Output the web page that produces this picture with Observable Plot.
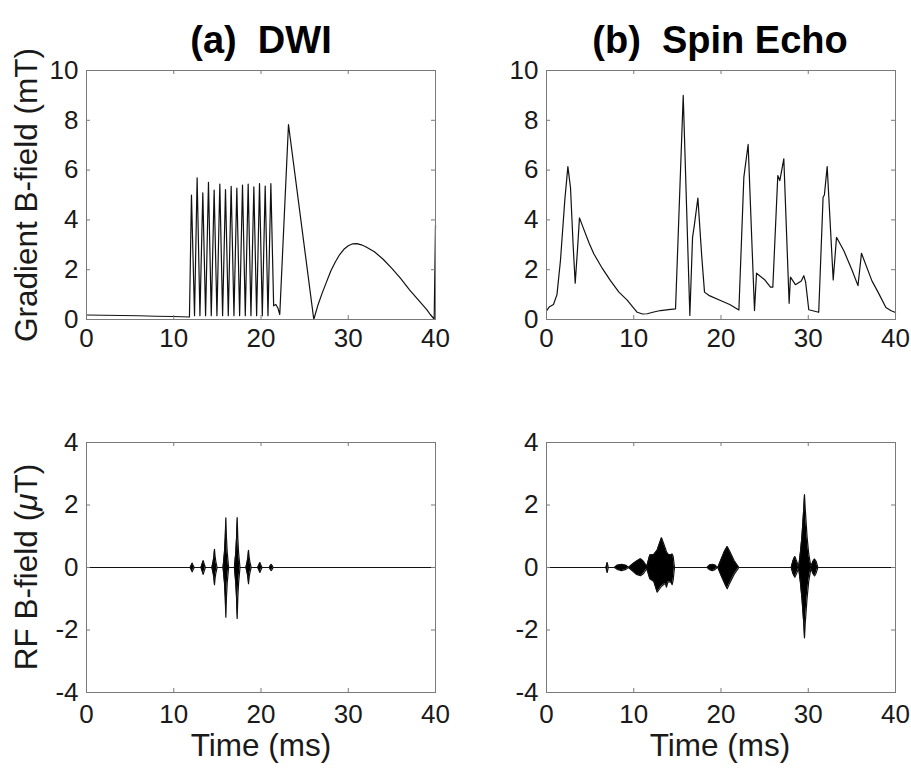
<!DOCTYPE html>
<html>
<head>
<meta charset="utf-8">
<script src="https://cdn.jsdelivr.net/npm/d3@7"></script>
<script src="https://cdn.jsdelivr.net/npm/@observablehq/plot@0.6"></script>
<style>
  body { margin: 0; background: #fff; }
  #fig { position: relative; width: 911px; height: 770px; background: #fff;
         font-family: "Liberation Sans", Arial, Helvetica, sans-serif; color: #1a1a1a; overflow: hidden; }
  #fig svg { position: absolute; overflow: visible; }
  .title { position: absolute; top: 40px; transform: translate(-50%, -50%); font-weight: bold;
           font-size: 38px; line-height: 1; white-space: pre; color: #000; }
  .xlab { position: absolute; transform: translate(-50%, -50%); font-size: 31.5px; line-height: 1; white-space: nowrap; }
  .ylab { position: absolute; transform: translate(-50%, -50%) rotate(-90deg); font-size: 31.5px; line-height: 1; white-space: nowrap; }
</style>
</head>
<body>
<div id="fig"></div>
<script>
// ---------------- data ----------------
const panelTitles = ["(a)  DWI", "(b)  Spin Echo"];
const xTicks = [0, 10, 20, 30, 40];
const gradTicks = [0, 2, 4, 6, 8, 10];
const rfTicks = [-4, -2, 0, 2, 4];

// (a) DWI gradient waveform: time (ms), field (mT)
const dwiGradT = [0, 2, 4, 6, 8, 10, 11.8, 12.03, 12.38, 12.68, 13.0, 13.33, 13.65, 13.98, 14.3, 14.63, 14.95,
  15.28, 15.6, 15.93, 16.25, 16.58, 16.9, 17.23, 17.55, 17.88, 18.2, 18.53, 18.85, 19.18, 19.5, 19.83, 20.15,
  20.48, 20.8, 21.13, 21.45, 21.7, 21.95, 22.15, 23.15, 26.05, 26.5, 27.0, 27.5, 28.0, 28.5, 29.0, 29.5, 30.0,
  30.5, 31.0, 31.5, 32.0, 33.0, 34.0, 35.0, 36.0, 37.0, 38.0, 39.0, 39.4, 39.85, 40];
const dwiGradB = [0.18, 0.17, 0.16, 0.15, 0.13, 0.12, 0.1, 5.0, 0.15, 5.69, 0.15, 5.09, 0.15, 5.51, 0.15, 5.2, 0.15,
  5.44, 0.15, 5.22, 0.15, 5.35, 0.15, 5.28, 0.15, 5.4, 0.15, 5.44, 0.15, 5.33, 0.15, 5.46, 0.15,
  5.36, 0.15, 5.46, 0.55, 0.6, 0.45, 0.2, 7.83, 0.0, 0.55, 1.05, 1.5, 1.95, 2.3, 2.6, 2.82, 2.96,
  3.04, 3.05, 3.0, 2.92, 2.72, 2.42, 2.05, 1.65, 1.2, 0.8, 0.4, 0.2, 0.02, 3.8];

// (b) Spin echo gradient waveform: time (ms), field (mT)
const seGradT = [0, 0.3, 0.8, 1.2, 1.6, 2.1, 2.45, 2.75, 3.05, 3.29, 3.55, 3.78, 4.3, 4.9, 5.42, 6.4, 7.33, 8.3, 9.25,
  9.9, 10.4, 11.0, 11.54, 12.3, 13.07, 14.0, 14.79, 15.67, 16.43, 16.74, 16.95, 17.35, 17.8, 18.11, 18.6, 19.94,
  21.0, 22.05, 22.62, 23.11, 23.84, 24.07, 25.0, 25.67, 25.94, 26.51, 26.74, 27.2, 27.81, 27.96, 28.53, 29.2,
  29.49, 29.7, 30.06, 31.2, 31.7, 31.85, 32.17, 32.86, 33.24, 34.08, 35.0, 35.7, 36.1, 37.3, 38.0, 38.9, 39.5, 40];
const seGradB = [0.35, 0.5, 0.6, 1.0, 2.37, 4.8, 6.14, 5.3, 3.0, 1.46, 2.8, 4.08, 3.6, 3.05, 2.64, 2.05, 1.56, 1.1, 0.78,
  0.5, 0.29, 0.22, 0.23, 0.3, 0.36, 0.4, 0.43, 9.0, 0.16, 3.3, 3.8, 4.88, 2.5, 1.1, 0.97, 0.76,
  0.6, 0.38, 5.72, 7.03, 0.36, 1.86, 1.6, 1.3, 1.3, 5.78, 5.58, 6.45, 0.65, 1.7, 1.4, 1.55,
  1.76, 1.5, 0.39, 0.29, 4.91, 5.0, 6.14, 1.59, 3.3, 2.76, 2.0, 1.36, 2.66, 1.55, 1.1, 0.48, 0.35, 0.28];

// (a) DWI RF envelope: time (ms), upper / lower envelope (uT)
const dwiRfT = [0, 11.88, 12.02, 12.11, 12.2, 12.34, 13.12, 13.27, 13.37, 13.47, 13.62,
  14.37, 14.52, 14.61, 14.67, 14.73, 14.82, 14.97, 15.65, 15.81, 15.9, 15.97, 16.04, 16.13, 16.29,
  16.95, 17.11, 17.2, 17.27, 17.34, 17.43, 17.59, 18.27, 18.42, 18.51, 18.57, 18.63, 18.72, 18.87,
  19.62, 19.77, 19.87, 19.97, 20.12, 20.95, 21.07, 21.17, 21.27, 21.39, 40];
const dwiRfHi = [0, 0, 0.08, 0.14, 0.08, 0, 0, 0.13, 0.22, 0.13, 0,
  0, 0.2, 0.38, 0.58, 0.38, 0.2, 0, 0, 0.48, 0.95, 1.59, 0.95, 0.48, 0,
  0, 0.48, 0.96, 1.6, 0.96, 0.48, 0, 0, 0.19, 0.36, 0.55, 0.36, 0.19, 0,
  0, 0.09, 0.16, 0.09, 0, 0, 0.06, 0.1, 0.06, 0, 0];
const dwiRfLo = [0, 0, -0.08, -0.14, -0.08, 0, 0, -0.13, -0.22, -0.13, 0,
  0, -0.19, -0.36, -0.55, -0.36, -0.19, 0, 0, -0.48, -0.95, -1.59, -0.95, -0.48, 0,
  0, -0.5, -0.98, -1.63, -0.98, -0.5, 0, 0, -0.18, -0.34, -0.52, -0.34, -0.18, 0,
  0, -0.09, -0.16, -0.09, 0, 0, -0.06, -0.1, -0.06, 0, 0];

// (b) Spin echo RF envelope: time (ms), upper / lower envelope (uT)
const seRfT = [0, 6.82, 6.95, 7.08, 7.8, 8.1, 8.6, 9.1, 9.4, 9.9, 10.3, 10.77, 11.1, 11.5,
  11.84, 12.3, 12.68, 13.18, 13.64, 13.75, 13.91, 14.21, 14.4, 14.52, 14.67,
  18.41, 18.7, 18.99, 19.3, 19.56, 19.64, 20.0, 20.4, 20.71, 21.0, 21.5, 22.05,
  28.05, 28.25, 28.46, 28.65, 28.9, 29.09, 29.28, 29.49, 29.57, 29.65, 29.86, 30.05, 30.3,
  30.55, 30.72, 30.9, 31.1, 40];
const seRfHi = [0, 0, 0.16, 0, 0, 0.07, 0.1, 0.07, 0, 0.12, 0.2, 0.28, 0.2, 0.04,
  0.4, 0.42, 0.55, 0.95, 0.6, 0.5, 0.43, 0.4, 0.43, 0.35, 0,
  0, 0.08, 0.1, 0.08, 0, 0, 0.25, 0.52, 0.67, 0.52, 0.22, 0,
  0, 0.22, 0.35, 0.22, 0.02, 0.45, 1.0, 1.9, 2.33, 1.9, 1.0, 0.45, 0.03,
  0.2, 0.27, 0.2, 0, 0];
const seRfLo = [0, 0, -0.16, 0, 0, -0.06, -0.1, -0.06, 0, -0.12, -0.22, -0.26, -0.2, -0.04,
  -0.36, -0.45, -0.79, -0.6, -0.5, -0.63, -0.47, -0.45, -0.55, -0.4, 0,
  0, -0.07, -0.1, -0.07, 0, 0, -0.25, -0.5, -0.68, -0.5, -0.22, 0,
  0, -0.2, -0.31, -0.2, -0.02, -0.45, -1.0, -1.8, -2.25, -1.8, -1.0, -0.45, -0.03,
  -0.2, -0.27, -0.18, 0, 0];

// ---------------- drawing ----------------
const fig = document.getElementById("fig");
const FONT = '"Liberation Sans", Arial, Helvetica, sans-serif';
const AXIS = "#7a7a7a";
const PW = 349;

function zip(t, a, b) {
  return t.map((d, i) => ({t: d, a: a[i], b: b ? b[i] : undefined}));
}

function panel({left, top, mLeft, mRight, mTop, mBottom, H, yDomain, yTicks, marks, padX}) {
  const svg = Plot.plot({
    width: mLeft + PW + mRight,
    height: mTop + H + mBottom,
    marginLeft: mLeft, marginRight: mRight, marginTop: mTop, marginBottom: mBottom,
    x: {domain: [0, 40]},
    y: {domain: yDomain},
    style: {fontFamily: FONT, fontSize: "26px", color: "#1a1a1a", background: "transparent", overflow: "visible"},
    marks: [
      ...marks,
      Plot.frame({stroke: AXIS, strokeWidth: 1}),
      Plot.tickX(xTicks, {x: d => d, insetTop: H - 4, stroke: AXIS}),
      Plot.tickX(xTicks, {x: d => d, insetBottom: H - 4, stroke: AXIS}),
      Plot.tickY(yTicks, {y: d => d, insetRight: PW - 4, stroke: AXIS}),
      Plot.tickY(yTicks, {y: d => d, insetLeft: PW - 4, stroke: AXIS}),
      Plot.axisX({ticks: xTicks, tickSize: 0, tickPadding: padX, label: null, tickFormat: d => String(d)}),
      Plot.axisY({ticks: yTicks, tickSize: 0, tickPadding: 8, label: null, tickFormat: d => String(d)})
    ]
  });
  svg.style.left = left + "px";
  svg.style.top = top + "px";
  fig.appendChild(svg);
}

function gradMarks(t, b) {
  return [Plot.line(zip(t, b), {x: "t", y: "a", stroke: "#111", strokeWidth: 1.2})];
}
function rfMarks(t, hi, lo) {
  const d = zip(t, hi, lo);
  return [
    Plot.areaY(d, {x: "t", y1: "b", y2: "a", fill: "#000"}),
    Plot.line(d, {x: "t", y: "a", stroke: "#111", strokeWidth: 1.2}),
    Plot.line(d, {x: "t", y: "b", stroke: "#111", strokeWidth: 1.2})
  ];
}

const topRow = {top: 0, mTop: 70, H: 249, mBottom: 50, yDomain: [0, 10], yTicks: gradTicks, padX: 9};
const botRow = {top: 380, mTop: 62, H: 250, mBottom: 40, yDomain: [-4, 4], yTicks: rfTicks, padX: 12};
const leftCol = {left: 0, mLeft: 86, mRight: 20};
const rightCol = {left: 460, mLeft: 86, mRight: 16};

panel({...topRow, ...leftCol, marks: gradMarks(dwiGradT, dwiGradB)});
panel({...topRow, ...rightCol, marks: gradMarks(seGradT, seGradB)});
panel({...botRow, ...leftCol, marks: rfMarks(dwiRfT, dwiRfHi, dwiRfLo)});
panel({...botRow, ...rightCol, marks: rfMarks(seRfT, seRfHi, seRfLo)});

// titles and axis labels
function addDiv(cls, html, x, y) {
  const d = document.createElement("div");
  d.className = cls;
  d.innerHTML = html;
  d.style.left = x + "px";
  if (y !== undefined) d.style.top = y + "px";
  fig.appendChild(d);
}
addDiv("title", panelTitles[0], 261);
addDiv("title", panelTitles[1], 720);
addDiv("ylab", "Gradient B-field (mT)", 27, 195);
addDiv("ylab", "RF B-field (<i>&mu;</i>T)", 27, 567);
addDiv("xlab", "Time (ms)", 261, 746);
addDiv("xlab", "Time (ms)", 720, 746);
</script>
</body>
</html>
